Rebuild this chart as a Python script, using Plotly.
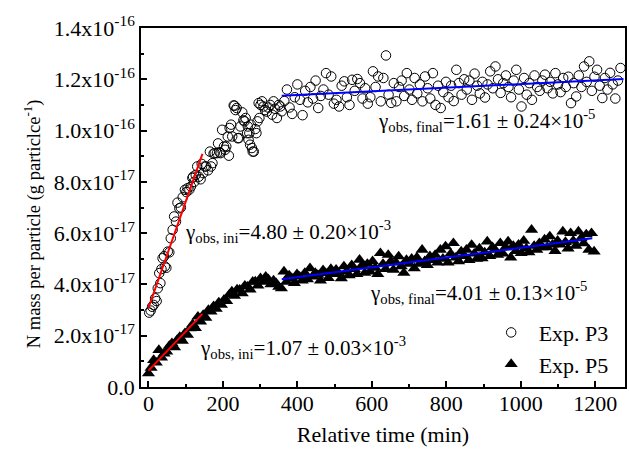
import plotly.graph_objects as go

# ---- data (N mass per particle in units of 1e-17 g particle^-1) ----
p3_time = [2, 6, 10, 14, 18, 22, 25, 29, 32, 35, 38, 42, 44, 48, 52, 56, 60, 65, 69, 74,
           78, 83, 87, 92, 98, 102, 105, 110, 114, 118, 120, 123, 127, 131, 135, 140, 143, 147, 151, 155,
           160, 165, 168, 172, 175, 178, 184, 187, 191, 194, 198, 203, 206, 209, 213, 216, 218, 222, 225, 229,
           231, 234, 237, 240, 243, 247, 252, 255, 258, 261, 265, 267, 269, 271, 273, 275, 278, 280, 283, 287,
           290, 293, 296, 298, 301, 305, 309, 313, 318, 322, 327, 332, 336, 340, 345, 350, 354, 358,
           365, 372, 379, 386, 393, 400, 407, 414, 421, 428,
           435, 442, 449, 456, 463, 470, 477, 484, 491, 498,
           505, 512, 519, 526, 533, 540, 547, 554, 561, 568,
           575, 582, 589, 596, 603, 610, 617, 624, 631, 638,
           645, 652, 659, 666, 673, 680, 687, 694, 701, 708,
           715, 722, 729, 736, 743, 750, 757, 764, 771, 778,
           785, 792, 799, 806, 813, 820, 827, 834, 841, 848,
           855, 862, 869, 876, 883, 890, 897, 904, 911, 918,
           925, 932, 939, 946, 953, 960, 967, 974, 981, 988,
           995, 1002, 1009, 1016, 1023, 1030, 1037, 1044, 1051, 1058,
           1065, 1072, 1079, 1086, 1093, 1100, 1107, 1114, 1121, 1128,
           1135, 1142, 1149, 1156, 1163, 1170, 1177, 1184, 1191, 1198,
           1205, 1212, 1219, 1226, 1233, 1240, 1247, 1254, 1261, 1268]
p3_n = [29.0, 29.8, 31.3, 32.0, 34.6, 33.5, 38.5, 44.4, 40.5, 46.0, 50.2, 51.0, 47.0, 46.5, 52.8, 52.5, 58.0, 61.3, 66.5, 64.5,
        71.9, 69.7, 70.0, 74.0, 76.9, 76.0, 77.5, 77.0, 78.2, 81.5, 82.0, 80.0, 82.7, 86.0, 82.0, 81.0, 87.0, 83.4, 86.0, 86.0,
        84.5, 91.8, 86.0, 87.3, 91.0, 91.2, 91.2, 95.0, 91.5, 91.2, 100.3, 93.8, 92.5, 93.8, 97.7, 90.2, 101.0, 102.3, 97.7, 109.8,
        109.7, 108.0, 108.8, 97.0, 97.1, 101.6, 107.1, 104.0, 103.6, 104.9, 99.0, 101.6, 96.4, 99.0, 94.5, 102.3, 93.2, 91.8, 91.8, 100.6,
        99.0, 103.6, 110.7, 104.9, 110.0, 111.4, 109.4, 108.0, 107.4, 109.0, 110.0, 106.2, 111.4, 108.5, 104.9, 110.0, 109.4, 107.5,
        111.5, 116.0, 109.0, 106.5, 113.0, 118.0, 112.0, 106.0, 115.5, 111.0,
        117.0, 112.5, 119.5, 108.8, 113.5, 116.0, 122.4, 114.0, 121.1, 110.5,
        112.0, 109.4, 117.5, 119.2, 113.0, 110.0, 119.8, 115.5, 120.1, 118.5,
        112.5, 116.5, 110.5, 113.0, 123.1, 117.0, 121.1, 111.4, 120.5, 129.3,
        114.0, 110.8, 118.5, 111.4, 117.0, 119.5, 113.5, 122.4, 116.0, 112.0,
        120.5, 114.5, 118.0, 111.4, 121.1, 116.5, 112.5, 122.4, 110.0, 117.5,
        108.8, 115.0, 119.0, 113.0, 117.5, 111.5, 123.7, 118.5, 114.0, 120.0,
        116.0, 119.5, 112.0, 122.2, 117.5, 114.5, 119.0, 112.9, 118.0, 123.1,
        116.5, 125.0, 120.0, 114.7, 118.5, 121.5, 117.0, 113.0, 119.5, 123.7,
        116.0, 109.4, 120.5, 114.0, 118.5, 112.0, 121.5, 117.0, 115.5, 119.5,
        121.8, 116.5, 119.0, 114.5, 122.4, 118.0, 115.0, 120.5, 117.0, 121.0,
        110.7, 118.5, 113.3, 121.5, 117.0, 125.0, 119.0, 127.0, 115.5, 121.0,
        123.7, 117.5, 112.7, 120.5, 116.0, 122.5, 118.0, 112.5, 119.5, 124.4]

p5_time = [0, 7, 14, 21, 28, 35, 42, 49, 56, 63, 70, 77, 84, 91, 98, 105, 112, 119, 126, 133,
           140, 147, 154, 161, 168, 175, 182, 189, 196, 203, 210, 217, 224, 231, 238, 245, 252, 259, 266, 273,
           280, 287, 294, 301, 308, 315, 322, 329, 336, 343, 350, 357,
           364, 371, 378, 385, 392, 399, 406, 413, 420, 427,
           434, 441, 448, 455, 462, 469, 476, 483, 490, 497,
           504, 511, 518, 525, 532, 539, 546, 553, 560, 567,
           574, 581, 588, 595, 602, 609, 616, 623, 630, 637,
           644, 651, 658, 665, 672, 679, 686, 693, 700, 707,
           714, 721, 728, 735, 742, 749, 756, 763, 770, 777,
           784, 791, 798, 805, 812, 819, 826, 833, 840, 847,
           854, 861, 868, 875, 882, 889, 896, 903, 910, 917,
           924, 931, 938, 945, 952, 959, 966, 973, 980, 987,
           994, 1001, 1008, 1015, 1022, 1029, 1036, 1043, 1050, 1057,
           1064, 1071, 1078, 1085, 1092, 1099, 1106, 1113, 1120, 1127,
           1134, 1141, 1148, 1155, 1162, 1169, 1176, 1183, 1190, 1197]
p5_n = [5.3, 7.5, 10.5, 9.5, 14.4, 11.5, 13.0, 13.8, 16.0, 17.1, 15.5, 18.3, 19.5, 18.0, 21.0, 20.3, 22.9, 24.5, 23.0, 27.4,
        25.5, 28.1, 27.0, 30.0, 29.4, 31.5, 30.5, 33.0, 32.0, 34.0, 33.5, 36.0, 37.2, 35.5, 38.0, 37.9, 36.5, 39.5, 39.1, 38.0,
        41.0, 41.1, 39.5, 42.4, 41.0, 43.0, 42.0, 40.0, 41.5, 40.5, 39.0, 38.5,
        45.0, 41.0, 43.5, 42.4, 40.5, 44.0, 43.0, 41.5, 44.5, 42.0,
        46.3, 43.0, 44.5, 43.7, 41.5, 45.5, 44.4, 42.5, 46.0, 44.0,
        45.7, 44.4, 42.4, 47.0, 45.0, 43.5, 47.5, 46.0, 44.0, 49.6,
        47.5, 44.5, 48.0, 45.0, 49.0, 46.5, 44.0, 52.2, 48.0, 46.0,
        51.5, 49.0, 45.7, 48.5, 50.9, 47.0, 44.5, 49.5, 48.0, 50.0,
        46.3, 50.5, 48.0, 53.5, 49.0, 47.5, 51.0, 49.5, 51.5, 48.5,
        53.5, 50.0, 54.8, 48.5, 52.0, 56.1, 50.5, 49.0, 52.8, 51.0,
        53.5, 49.5, 55.4, 52.0, 50.0, 54.0, 50.2, 52.5, 56.7, 51.0,
        54.5, 53.5, 51.5, 56.1, 52.0, 54.5, 56.7, 50.5, 55.0, 53.0,
        55.5, 52.2, 57.0, 54.0, 52.5, 61.3, 55.0, 53.5, 56.1, 54.5,
        57.5, 54.5, 58.7, 55.5, 53.0, 57.0, 55.5, 60.6, 56.5, 54.0,
        60.0, 57.0, 55.0, 60.6, 58.0, 56.0, 59.5, 53.5, 60.0, 52.8]

# linear fits (end points)
p3_ini_fit_t = [0, 145]
p3_ini_fit_n = [3.08, 9.09]
p3_fin_fit_t = [358, 1276]
p3_fin_fit_n = [11.36, 12.01]
p5_ini_fit_t = [0, 145]
p5_ini_fit_n = [0.64, 2.85]
p5_fin_fit_t = [358, 1192]
p5_fin_fit_n = [4.20, 5.80]

y_tickvals = [0, 2, 4, 6, 8, 10, 12, 14]
y_ticktext = ["0.0", "2.0x10<sup>-17</sup>", "4.0x10<sup>-17</sup>", "6.0x10<sup>-17</sup>",
              "8.0x10<sup>-17</sup>", "1.0x10<sup>-16</sup>", "1.2x10<sup>-16</sup>", "1.4x10<sup>-16</sup>"]
x_tickvals = [0, 200, 400, 600, 800, 1000, 1200]

FONT = "Liberation Serif, Times New Roman, serif"

fig = go.Figure()
fig.add_trace(go.Scatter(x=p3_time, y=[v / 10 for v in p3_n], mode="markers", name="Exp. P3",
                         marker=dict(symbol="circle-open", size=9.5, color="black", line=dict(width=1, color="black"))))
fig.add_trace(go.Scatter(x=p5_time, y=[v / 10 for v in p5_n], mode="markers", name="Exp. P5",
                         marker=dict(symbol="triangle-up", size=11.5, color="black")))
for t, n, c in [(p3_ini_fit_t, p3_ini_fit_n, "#ff0000"), (p3_fin_fit_t, p3_fin_fit_n, "#0000ff"),
                (p5_ini_fit_t, p5_ini_fit_n, "#ff0000"), (p5_fin_fit_t, p5_fin_fit_n, "#0000ff")]:
    fig.add_trace(go.Scatter(x=t, y=n, mode="lines", line=dict(color=c, width=2), showlegend=False))

annots = [
    (612, 10.38, "γ<sub>obs, final</sub>=1.61 ± 0.24×10<sup>-5</sup>"),
    (93, 6.07, "γ<sub>obs, ini</sub>=4.80 ± 0.20×10<sup>-3</sup>"),
    (591, 3.69, "γ<sub>obs, final</sub>=4.01 ± 0.13×10<sup>-5</sup>"),
    (133, 1.54, "γ<sub>obs, ini</sub>=1.07 ± 0.03×10<sup>-3</sup>"),
]
for x, y, txt in annots:
    fig.add_annotation(x=x, y=y, text=txt, showarrow=False, xanchor="left", yanchor="middle",
                       font=dict(family=FONT, size=21, color="black"))

# y-axis title (placed as rotated text)
fig.add_annotation(xref="paper", yref="paper", x=-0.224, y=0.455, textangle=-90, showarrow=False,
                   xanchor="center", yanchor="middle",
                   text="N mass per particle (g particlce<sup>-1</sup>)",
                   font=dict(family=FONT, size=18.5, color="black"))

axis_common = dict(showline=True, linecolor="black", linewidth=1.5, mirror=True, ticks="inside",
                   ticklen=6, tickwidth=1.5, tickcolor="black", showgrid=False, zeroline=False,
                   tickfont=dict(family=FONT, size=22, color="black"))

fig.update_xaxes(range=[-20, 1280], tickmode="array", tickvals=x_tickvals, ticklabelstandoff=-4,
                 minor=dict(tickmode="array", tickvals=[100, 300, 500, 700, 900, 1100], ticks="inside",
                            ticklen=3, tickwidth=1.5, tickcolor="black"),
                 title=dict(text="Relative time (min)", font=dict(family=FONT, size=22, color="black"), standoff=11),
                 **axis_common)
fig.update_yaxes(range=[0, 14], tickmode="array", tickvals=y_tickvals, ticktext=y_ticktext,
                 minor=dict(tickmode="array", tickvals=[1, 3, 5, 7, 9, 11, 13], ticks="inside",
                            ticklen=3, tickwidth=1.5, tickcolor="black"),
                 **axis_common)

fig.update_layout(width=629, height=452, margin=dict(l=141, r=2, t=28, b=65),
                  paper_bgcolor="white", plot_bgcolor="white",
                  font=dict(family=FONT, size=22, color="black"),
                  legend=dict(x=0.708, y=0.21, xanchor="left", yanchor="top", bgcolor="rgba(0,0,0,0)",
                              font=dict(family=FONT, size=22, color="black"), itemwidth=45),
                  showlegend=True)

fig.write_html("out.html")
